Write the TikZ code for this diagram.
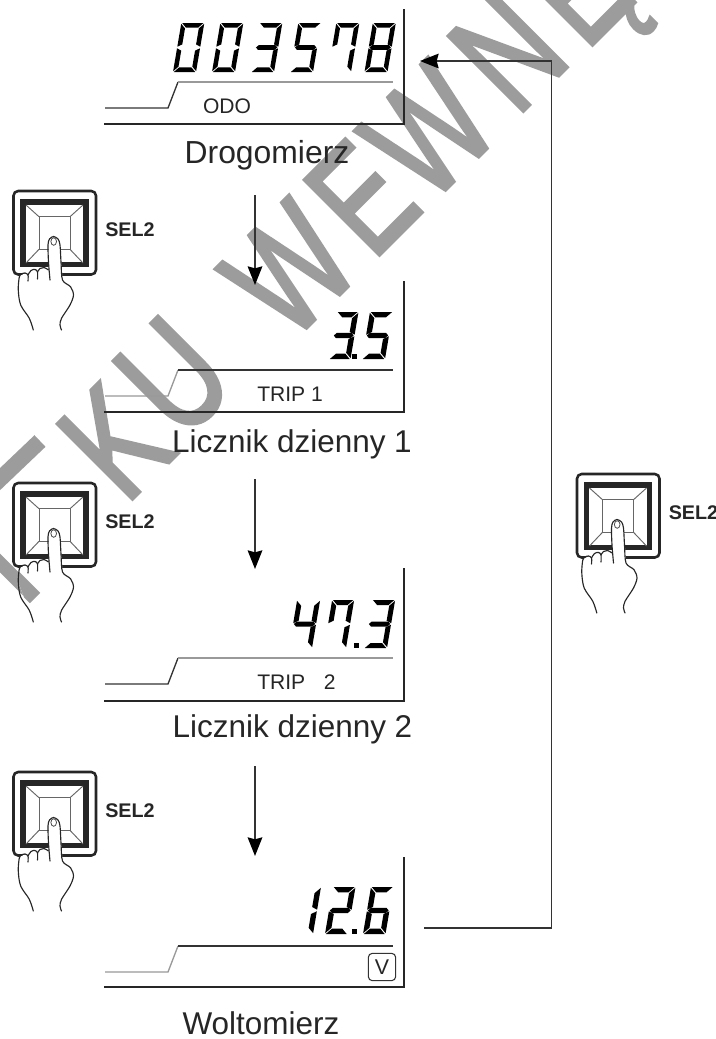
\documentclass[tikz,border=0pt]{standalone}
\usepackage{fontspec}
\usepackage{graphicx}
\setmainfont{Liberation Sans}
\newfontfamily\wmfont[FakeBold=2.6]{Liberation Sans}
\usetikzlibrary{arrows.meta}
\definecolor{ink}{HTML}{262626}
\definecolor{lineg}{HTML}{999999}
\definecolor{lined}{HTML}{333333}
\definecolor{wm}{HTML}{9C9C9C}
\newcommand{\fs}[1]{\fontsize{#1}{#1}\selectfont}
\newcommand{\wmtext}[1]{\scalebox{.73}[1]{\special{pdf:code 0.612 G}#1}}
\tikzset{
  x=.75pt,y=-.75pt,
  lbl/.style={inner sep=0pt,anchor=base,text=ink},
  frameline/.style={draw=ink,line width=1.7pt,line cap=butt,line join=miter},
  thin line/.style={line width=1pt},
  flow/.style={draw=lined,line width=1pt,-{Stealth[length=14pt,width=11pt,inset=1.5pt,black]}},
  wmk/.style={inner sep=0pt,anchor=base,text=wm,font=\wmfont\fs{115pt},rotate=45},
  sellbl/.style={inner sep=0pt,anchor=base west,text=ink,font=\bfseries\fs{14.8pt}},
}
% seven-segment helpers
\def\dW{23}\def\dH{49}\def\dT{4.6}\def\dS{.17}\def\dG{.8}
\def\segA{\fill ({\dG},-\dH) -- ({\dW-\dG},-\dH) -- ({\dW-\dG-\dT},{-\dH+\dT}) -- ({\dG+\dT},{-\dH+\dT}) -- cycle;}
\def\segD{\fill ({\dG},0) -- ({\dW-\dG},0) -- ({\dW-\dG-\dT},-\dT) -- ({\dG+\dT},-\dT) -- cycle;}
\def\segF{\fill (0,{-\dH+\dG}) -- (\dT,{-\dH+\dG+\dT}) -- (\dT,{-\dH/2-\dG-\dT/2}) -- (0,{-\dH/2-\dG}) -- cycle;}
\def\segE{\fill (0,-\dG) -- (\dT,{-\dG-\dT}) -- (\dT,{-\dH/2+\dG+\dT/2}) -- (0,{-\dH/2+\dG}) -- cycle;}
\def\segB{\fill (\dW,{-\dH+\dG}) -- ({\dW-\dT},{-\dH+\dG+\dT}) -- ({\dW-\dT},{-\dH/2-\dG-\dT/2}) -- (\dW,{-\dH/2-\dG}) -- cycle;}
\def\segC{\fill (\dW,-\dG) -- ({\dW-\dT},{-\dG-\dT}) -- ({\dW-\dT},{-\dH/2+\dG+\dT/2}) -- (\dW,{-\dH/2+\dG}) -- cycle;}
\def\segG{\fill ({\dG},{-\dH/2}) -- ({\dG+\dT/2},{-\dH/2-\dT/2}) -- ({\dW-\dG-\dT/2},{-\dH/2-\dT/2}) -- ({\dW-\dG},{-\dH/2}) -- ({\dW-\dG-\dT/2},{-\dH/2+\dT/2}) -- ({\dG+\dT/2},{-\dH/2+\dT/2}) -- cycle;}
\newcommand{\digitat}[3]{\begin{scope}[shift={(#1,#2)},xslant=\dS]\foreach \s in {#3}{\csname seg\s\endcsname}\end{scope}}
\newcommand{\dotat}[2]{\fill (#1,#2) rectangle ++(5,-5);}
% display frame: top, bottom, low line y, high line y, colours
\newcommand{\dispframe}[6]{%
  \draw[frameline] (404,#1) -- (404,#2) -- (104,#2);
  \draw[#5,thin line] (105,#3) -- (168,#3) -- (178,#4);
  \draw[#6,thin line] (178,#4) -- (393,#4);
}
\def\handshape{(33.3,330) -- (18.3,290) -- (19.3,276) -- (35,269) -- (48.5,270) -- (48.5,243) -- (53.5,236.5) -- (60,243) -- (62.5,280) -- (73.5,295) -- (61.5,330) -- cycle}
% SEL2 button with hand; #4 = what shows through the hand
\newcommand{\selbtn}[4]{%
\begin{scope}[shift={(#1,#2)}]
  \draw[ink,line width=1.9pt,rounded corners=3.5pt] (13.5,191) rectangle (96,274.5);
  \draw[black!85,line width=4pt] (23,202) rectangle (86,264.5);
  \draw[black!60,line width=.7pt] (39,216.7) rectangle (70,249.3);
  \draw[black!60,line width=.7pt] (26,205) -- (39,216.7) (83,205) -- (70,216.7) (26,263) -- (39,249.3) (83,263) -- (70,249.3);
  \fill[white] \handshape;
  #4
  \draw[ink,line width=.85pt,line cap=round,line join=round]
    plot[smooth,tension=.55] coordinates {(33.3,330) (29.3,318.3) (20.7,305) (18.3,290) (19.3,277) (21.5,274) (25,273) (28,275) (28,281)};
  \draw[ink,line width=.85pt,line cap=round]
    plot[smooth,tension=.6] coordinates {(28,275) (31,270.5) (35,269.5) (37.5,272) (37.5,279)};
  \draw[ink,line width=.85pt,line cap=round]
    plot[smooth,tension=.6] coordinates {(37.5,272) (40,268.5) (44,267.5) (48.5,270)};
  \draw[ink,line width=.85pt,line cap=round,line join=round]
    plot[smooth,tension=.5] coordinates {(50,280) (48.5,262) (48,245) (49.5,239) (53.5,236.5) (58,239) (60,245) (61,262) (62.5,280) (70.5,286.7) (73.5,295) (70,305) (61.5,318.3) (60,325) (61.5,330)};
  \draw[black!70,line width=.6pt] (53.7,241.5) ellipse (2.8 and 3.8);
  \node[sellbl] (#3) at (105,236) {SEL2};
\end{scope}}
\begin{document}
\begin{tikzpicture}
\useasboundingbox (0,0) rectangle (716,1039);
\fill[white] (0,0) rectangle (716,1039);

% ---------- watermark (under everything)
\begin{scope}
\clip (0,0) rectangle (716,1039);
\node[wmk] (wT) at (35,598) {\wmtext{T}};
\draw[wm,line width=12pt] (-45,522) -- (40,441);
\node[wmk] (wK) at (152,479) {\wmtext{K}};
\node[wmk] (wU) at (210.5,413.5) {\wmtext{U}};
\node[wmk] (wW) at (327,307) {\wmtext{W}};
\node[wmk] (wE) at (399,235) {\wmtext{E}};
\node[wmk] (wW2) at (466,169) {\wmtext{W}};
\node[wmk] (wN) at (545,89) {\wmtext{N}};
\node[wmk] (wEo) at (612,25) {\wmtext{Ę}};
\end{scope}

% ---------- displays
\dispframe{9}{124}{108}{82}{lined}{lineg}
\dispframe{281}{412}{396}{370}{lineg}{lined}
\dispframe{568}{701}{684}{658}{lined}{lineg}
\dispframe{857}{987}{972}{946}{lineg}{lined}

% digits 003578
\digitat{173}{72}{A,B,C,D,E,F}
\digitat{212}{72}{A,B,C,D,E,F}
\digitat{251}{72}{A,B,C,D,G}
\digitat{290}{72}{A,F,G,C,D}
\digitat{328}{72}{A,B,C,F}
\digitat{364.5}{72}{A,B,C,D,E,F,G}
% 3.5
\def\dH{47}\def\dT{5.4}\def\dW{21.5}
\digitat{329}{359}{A,B,C,D,G}
\dotat{351.5}{359}
\def\dW{23}
\digitat{362}{359}{A,F,G,C,D}
% 47.3
\def\dH{48}\def\dT{5}
\digitat{289}{648}{F,G,B,C}
\def\dW{22}
\digitat{324}{648}{A,B,C,F}
\dotat{354}{648}
\def\dW{23}
\digitat{364}{648}{A,B,C,D,G}
% 12.6
\def\dH{47}\def\dT{5.4}\def\dW{22.5}
\digitat{290.5}{934}{B,C}
\digitat{325}{934}{A,B,G,E,D}
\dotat{352}{934}
\digitat{363}{934}{A,F,G,E,D,C}

% ---------- texts
\node[lbl,font=\fs{15.8pt}] (odo) at (227,113.3) {ODO};
\node[lbl,font=\fs{15.8pt},anchor=base west] (trip1) at (257,401.7) {TRIP 1};
\node[lbl,font=\fs{15.8pt},anchor=base west] (trip2) at (257,689) {TRIP\hspace{14pt}2};
\node[draw=lined,line width=.8pt,rounded corners=3pt,minimum width=20.5pt,minimum height=20.5pt,inner sep=0pt,text=ink,font=\fs{16pt}] (volt) at (382,967) {V};
\node[lbl,font=\fs{23.9pt}] (drog) at (267,163) {Drogomierz};
\node[lbl,font=\fs{23.6pt}] (lic1) at (292,452) {Licznik dzienny 1};
\node[lbl,font=\fs{23.6pt}] (lic2) at (292.5,737) {Licznik dzienny 2};
\node[lbl,font=\fs{23.6pt}] (wolt) at (261,1034) {Woltomierz};

% ---------- connectors
\coordinate (a1s) at (255,195); \coordinate (a1e) at (255,285);
\coordinate (a2s) at (255,479); \coordinate (a2e) at (255,569);
\coordinate (a3s) at (255,766); \coordinate (a3e) at (255,856);
\coordinate (rs) at (424,928); \coordinate (rc) at (551.5,61); \coordinate (re) at (420,61);
\draw[flow] (a1s) -- (a1e);
\draw[flow] (a2s) -- (a2e);
\draw[flow] (a3s) -- (a3e);
\draw[flow] (rs) -| (rc) -- (re);

% ---------- buttons
\selbtn{0}{0}{selA}{}
\selbtn{0}{292}{selB}{\begin{scope}\clip \handshape; \draw[wm,line width=11pt] (-10,261) -- (35,306);\end{scope}}
\selbtn{0}{581}{selC}{}
\selbtn{563.5}{283}{selD}{}
\end{tikzpicture}
\end{document}
